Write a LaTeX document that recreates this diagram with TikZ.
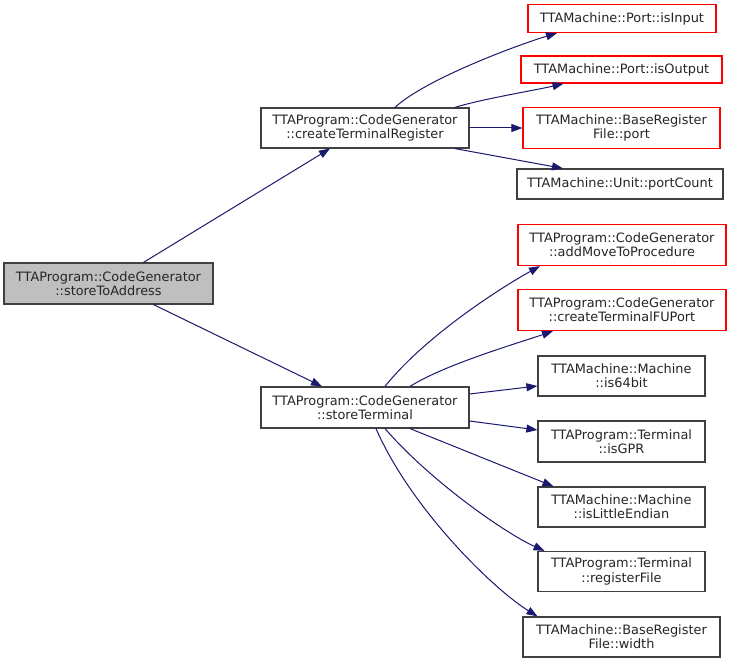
\documentclass[tikz,border=0pt]{standalone}
\usepackage{fontspec}
\setmainfont{DejaVu Sans}
\usetikzlibrary{arrows.meta,calc}
\definecolor{edgeblue}{HTML}{191970}
\definecolor{rootfill}{HTML}{BFBFBF}
\definecolor{boxgray}{HTML}{404040}
\begin{document}
\begin{tikzpicture}[x=1pt,y=-1pt,
  box/.style={draw=boxgray,line width=1.2pt,fill=white,rectangle,align=center,inner sep=0pt,
    font=\fontsize{12.9}{14.2}\selectfont,text=black!85},
  redbox/.style={box,draw=red},
  rootbox/.style={box,fill=rootfill},
  edge/.style={draw=edgeblue,line width=1pt,-{Triangle[length=11pt,width=8pt]}}]
\useasboundingbox[fill=white] (0,0) rectangle (732,663);
% nodes
\node[rootbox,minimum width=209pt,minimum height=41pt] (root) at (108.5,283.5) {TTAProgram::CodeGenerator\\::storeToAddress};
\node[box,minimum width=208pt,minimum height=40pt] (ctr) at (365,128) {TTAProgram::CodeGenerator\\::createTerminalRegister};
\node[box,minimum width=208pt,minimum height=41pt] (st) at (365,407.5) {TTAProgram::CodeGenerator\\::storeTerminal};
\node[redbox,minimum width=188pt,minimum height=28pt] (isin) at (622,18.5) {TTAMachine::Port::isInput};
\node[redbox,minimum width=201pt,minimum height=27pt] (isout) at (621.5,69.5) {TTAMachine::Port::isOutput};
\node[redbox,minimum width=197pt,minimum height=41pt] (port) at (621.5,128) {TTAMachine::BaseRegister\\File::port};
\node[box,minimum width=206pt,minimum height=30pt] (pc) at (620,184) {TTAMachine::Unit::portCount};
\node[redbox,minimum width=208pt,minimum height=41pt] (amp) at (622,245) {TTAProgram::CodeGenerator\\::addMoveToProcedure};
\node[redbox,minimum width=208pt,minimum height=41pt] (ctfu) at (622,310) {TTAProgram::CodeGenerator\\::createTerminalFUPort};
\node[box,minimum width=167pt,minimum height=40pt] (i64) at (621.5,376) {TTAMachine::Machine\\::is64bit};
\node[box,minimum width=167pt,minimum height=41pt] (gpr) at (621.5,441.5) {TTAProgram::Terminal\\::isGPR};
\node[box,minimum width=167pt,minimum height=40pt] (le) at (621.5,507) {TTAMachine::Machine\\::isLittleEndian};
\node[box,minimum width=167pt,minimum height=40pt] (rf) at (621.5,571.5) {TTAProgram::Terminal\\::registerFile};
\node[box,minimum width=197pt,minimum height=40pt] (wd) at (621.5,637) {TTAMachine::BaseRegister\\File::width};
% edges from root
\draw[edge] ([xshift=35pt]root.north) -- ([xshift=-35pt]ctr.south);
\draw[edge] ([xshift=45pt]root.south) -- ([xshift=-43pt]st.north);
% edges from createTerminalRegister
\draw[edge] ([xshift=30pt]ctr.north) .. controls +(30,-28) and +(-40,12) .. ([xshift=-65pt]isin.south);
\draw[edge] ([xshift=90pt]ctr.north) .. controls +(25,-8) and +(-25,6) .. ([xshift=-58pt]isout.south);
\draw[edge] (ctr.east) -- (port.west);
\draw[edge] ([xshift=90pt]ctr.south) -- ([xshift=-57pt]pc.north);
% edges from storeTerminal
\draw[edge] ([xshift=20pt]st.north) .. controls +(40,-50) and +(-40,22) .. ([xshift=-82pt]amp.south);
\draw[edge] ([xshift=45pt]st.north) .. controls +(35,-22) and +(-35,12) .. ([xshift=-69pt]ctfu.south);
\draw[edge] ([yshift=13.5pt]st.east) -- ([yshift=-10pt]i64.west);
\draw[edge] ([yshift=-13.5pt]st.east) -- ([yshift=11.5pt]gpr.west);
\draw[edge] ([xshift=45pt]st.south) -- ([xshift=-68pt]le.north);
\draw[edge] ([xshift=20pt]st.south) .. controls +(45,52) and +(-40,-18) .. ([xshift=-77pt]rf.north);
\draw[edge] ([xshift=11pt]st.south) .. controls +(35,80) and +(-45,-28) .. ([xshift=-84pt]wd.north);
\end{tikzpicture}
\end{document}
